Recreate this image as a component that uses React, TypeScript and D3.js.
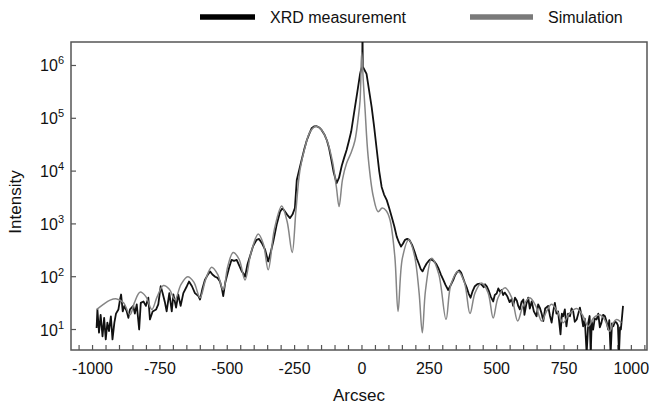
import React, { useEffect, useRef } from 'react';
import * as d3 from 'd3';

const seriesNames = ['XRD measurement', 'Simulation'];
const xTicks = [-1000, -750, -500, -250, 0, 250, 500, 750, 1000];
const yTicks = [10, 100, 1000, 10000, 100000, 1000000];

// XRD measurement (black, noisy)
const measArcsec = [
  -985, -982, -976, -970, -963, -957, -951, -945, -939, -932, -926, -919, -913, -904, -898, -894, -888, -882, -873, -867,
  -861, -849, -843, -836, -827, -821, -811, -802, -793, -787, -777, -764, -756, -747, -740, -731, -725, -715, -706, -700,
  -690, -682, -673, -663, -650, -642, -631, -620, -607, -601, -592, -583, -574, -564, -555, -545, -536, -527, -520, -515,
  -508, -502, -493, -484, -475, -465, -455, -446, -440, -434, -425, -416, -404, -391, -382, -372, -360, -348, -338, -329,
  -316, -304, -296, -289, -278, -267, -258, -249, -242, -233, -224, -215, -205, -196, -187, -178, -168, -159, -150, -140,
  -130, -122, -115, -105, -94, -85, -75, -66, -57, -48, -40, -33, -26, -17, -7, -3, 0, 1, 2, 3,
  8, 17, 26, 36, 45, 55, 64, 73, 82, 92, 101, 110, 120, 129, 137, 145, 152, 160, 168, 176,
  186, 195, 203, 212, 218, 225, 232, 240, 248, 255, 263, 270, 277, 285, 293, 302, 310, 320, 330, 339,
  345, 352, 361, 368, 375, 382, 390, 396, 403, 410, 419, 428, 438, 445, 452, 457, 463, 470, 478, 487,
  493, 500, 506, 512, 518, 524, 530, 540, 548, 556, 561, 568, 575, 580, 586, 592, 599, 603, 610, 617,
  623, 630, 638, 648, 654, 660, 667, 673, 680, 691, 698, 704, 710, 716, 722, 728, 737, 742, 747, 753,
  759, 765, 772, 778, 784, 790, 797, 803, 809, 815, 821, 827, 834, 840, 845, 849, 853, 858, 864, 871,
  877, 883, 889, 895, 902, 908, 914, 918, 923, 928, 933, 939, 945, 950, 954, 958, 961, 965, 969,
];
const measIntensity = [
  10.7, 24, 8.7, 19, 7.4, 16.6, 6.5, 13.5, 9.3, 17.8, 6.5, 13.5, 20, 24, 37, 46, 22, 28, 22, 16.6,
  24, 28, 20, 30, 10, 32, 34, 28, 40, 15.5, 22, 24, 30, 66, 49, 32, 22, 49, 22, 46,
  26, 46, 28, 49, 66, 81, 66, 49, 43, 37, 60, 87, 105, 126, 110, 100, 95, 81, 60, 43,
  75, 100, 150, 209, 200, 209, 160, 126, 115, 100, 170, 240, 380, 500, 520, 437, 330, 195, 300, 468,
  1000, 1700, 1950, 1820, 1500, 1290, 1500, 2000, 6760, 10500, 16200, 25000, 38000, 50000, 64600, 70000, 70800, 67000, 60300, 50000,
  38000, 27000, 17800, 9500, 5890, 7500, 12600, 18000, 25100, 38000, 56200, 95000, 162000, 320000, 692000, 850000, 933000, 933000, 5000000, 950000,
  850000, 692000, 350000, 162000, 70000, 25100, 10000, 5010, 3600, 2820, 2000, 1380, 900, 575, 450, 372, 420, 500, 520, 500,
  400, 300, 224, 170, 140, 126, 150, 178, 200, 214, 205, 190, 170, 140, 110, 87, 70, 56, 70, 87,
  105, 120, 132, 120, 95, 76, 60, 48, 40, 52, 66, 72, 74, 70, 63, 72, 66, 55, 42, 34,
  45, 48, 60, 52, 56, 45, 50, 42, 33, 38, 28, 40, 35, 28, 24, 33, 37, 19, 30, 40,
  25, 34, 22, 17.8, 30, 26, 20, 14.5, 25, 28, 18, 13.5, 22, 32, 20, 22, 8.1, 20, 17.8, 24,
  11.5, 20, 17.8, 25, 22, 14, 15.5, 20, 26, 18, 11.5, 16, 3.5, 13.5, 18, 3.5, 14, 10, 16, 15.5,
  20, 11, 13.5, 19, 17.8, 14, 10, 15, 3.5, 13, 11.5, 14, 13.5, 12, 3.5, 11, 10, 16.6, 28,
];

// Simulation (grey, smooth)
const simArcsec = [
  -984, -960, -935, -910, -885, -861, -845, -824, -802, -780, -760, -737, -715, -694, -672, -647, -624, -601, -580, -558,
  -536, -515, -498, -478, -456, -434, -412, -385, -366, -348, -325, -298, -278, -259, -245, -230, -211, -193, -171, -150,
  -130, -110, -95, -85, -72, -57, -40, -26, -14, -7, -1, 5, 11, 23, 42, 60, 75, 90, 104, 122,
  134, 150, 174, 195, 212, 224, 236, 259, 285, 312, 330, 357, 380, 401, 420, 444, 468, 487, 505, 531,
  556, 578, 598, 623, 645, 667, 685, 704, 725, 747, 770, 797, 818, 840, 860, 883, 902, 920, 932, 945,
  963,
];
const simIntensity = [
  24, 30, 36, 38, 32, 19, 32, 51, 42, 24, 42, 68, 58, 37, 71, 100, 79, 40, 89, 151,
  112, 56, 158, 288, 214, 87, 282, 646, 417, 135, 794, 2190, 1120, 288, 1820, 10500, 28800, 55000, 70800, 60300,
  38000, 15800, 5000, 2140, 7080, 14100, 22400, 38000, 100000, 219000, 1780000, 500000, 162000, 18600, 3310, 1700, 2000, 1780, 1200, 240,
  22, 224, 500, 251, 50, 8.7, 56, 224, 112, 15.5, 71, 126, 79, 20, 50, 76, 50, 16.6, 40, 62,
  40, 14.5, 28, 40, 28, 14.5, 22, 30, 22, 13.5, 20, 25, 19, 11.5, 16.6, 19, 15, 9.3, 13.2, 15.5,
  13.5,
];

const W = 649;
const H = 409;
const plot = { left: 71, right: 647, top: 42, bottom: 350 };
const font = '"Liberation Sans", Arial, Helvetica, sans-serif';

export default function App() {
  const svgRef = useRef<SVGSVGElement>(null);

  useEffect(() => {
    const svg = d3.select(svgRef.current);
    svg.selectAll('*').remove();

    const x = d3.scaleLinear().domain([-1080, 1058]).range([plot.left, plot.right]);
    const y = d3
      .scaleLog()
      .domain([Math.pow(10, 0.612), Math.pow(10, 6.445)])
      .range([plot.bottom, plot.top]);

    svg
      .append('defs')
      .append('clipPath')
      .attr('id', 'plot-clip')
      .append('rect')
      .attr('x', plot.left)
      .attr('y', plot.top)
      .attr('width', plot.right - plot.left)
      .attr('height', plot.bottom - plot.top);

    // frame
    svg
      .append('rect')
      .attr('x', plot.left)
      .attr('y', plot.top)
      .attr('width', plot.right - plot.left)
      .attr('height', plot.bottom - plot.top)
      .attr('fill', 'none')
      .attr('stroke', '#555')
      .attr('stroke-width', 1.5);

    // x minor ticks every 50, inward
    const minor = d3.range(-1050, 1051, 50);
    svg
      .append('g')
      .selectAll('line')
      .data(minor)
      .join('line')
      .attr('x1', d => x(d))
      .attr('x2', d => x(d))
      .attr('y1', plot.bottom)
      .attr('y2', plot.bottom - 5)
      .attr('stroke', '#555')
      .attr('stroke-width', 1.2);

    svg
      .append('g')
      .selectAll('text')
      .data(xTicks)
      .join('text')
      .attr('x', d => x(d))
      .attr('y', 374)
      .attr('text-anchor', 'middle')
      .attr('font-family', font)
      .attr('font-size', 16)
      .attr('fill', '#111')
      .text(d => String(d));

    // y ticks
    svg
      .append('g')
      .selectAll('line')
      .data(yTicks)
      .join('line')
      .attr('x1', plot.left)
      .attr('x2', plot.left + 5)
      .attr('y1', d => y(d))
      .attr('y2', d => y(d))
      .attr('stroke', '#555')
      .attr('stroke-width', 1.2);

    const yl = svg
      .append('g')
      .selectAll('text')
      .data(yTicks)
      .join('text')
      .attr('x', 64)
      .attr('y', d => y(d) + 6)
      .attr('text-anchor', 'end')
      .attr('font-family', font)
      .attr('font-size', 16)
      .attr('fill', '#111');
    yl.append('tspan').text('10');
    yl.append('tspan')
      .attr('font-size', 11)
      .attr('dy', -7)
      .text(d => String(Math.round(Math.log10(d))));

    // axis titles
    svg
      .append('text')
      .attr('x', (plot.left + plot.right) / 2)
      .attr('y', 401)
      .attr('text-anchor', 'middle')
      .attr('font-family', font)
      .attr('font-size', 17)
      .attr('fill', '#111')
      .text('Arcsec');

    svg
      .append('text')
      .attr('transform', 'translate(21,202) rotate(-90)')
      .attr('text-anchor', 'middle')
      .attr('font-family', font)
      .attr('font-size', 17)
      .attr('fill', '#111')
      .text('Intensity');

    const g = svg.append('g').attr('clip-path', 'url(#plot-clip)');

    const meas = measArcsec.map((a, i) => [a, measIntensity[i]] as [number, number]);
    const sim = simArcsec.map((a, i) => [a, simIntensity[i]] as [number, number]);

    const lineMeas = d3
      .line<[number, number]>()
      .x(d => x(d[0]))
      .y(d => y(d[1]));
    const lineSim = d3
      .line<[number, number]>()
      .x(d => x(d[0]))
      .y(d => y(d[1]))
      .curve(d3.curveCatmullRom.alpha(0.5));

    g.append('path')
      .datum(meas)
      .attr('fill', 'none')
      .attr('stroke', '#111')
      .attr('stroke-width', 1.8)
      .attr('stroke-linejoin', 'round')
      .attr('d', lineMeas);

    g.append('path')
      .datum(sim)
      .attr('fill', 'none')
      .attr('stroke', '#858585')
      .attr('stroke-width', 1.5)
      .attr('d', lineSim);

    // legend
    const legend = [
      { name: seriesNames[0], color: '#000', x0: 200, x1: 255 },
      { name: seriesNames[1], color: '#7a7a7a', x0: 470, x1: 533 },
    ];
    const lg = svg.append('g').selectAll('g').data(legend).join('g');
    lg.append('line')
      .attr('x1', d => d.x0)
      .attr('x2', d => d.x1)
      .attr('y1', 17)
      .attr('y2', 17)
      .attr('stroke', d => d.color)
      .attr('stroke-width', 5.5);
    lg.append('text')
      .attr('x', d => d.x1 + 15)
      .attr('y', 23)
      .attr('font-family', font)
      .attr('font-size', 16)
      .attr('fill', '#111')
      .text(d => d.name);
  }, []);

  return (
    <svg
      ref={svgRef}
      width={W}
      height={H}
      style={{ position: 'absolute', left: 0, top: 0, background: '#fff' }}
    />
  );
}
